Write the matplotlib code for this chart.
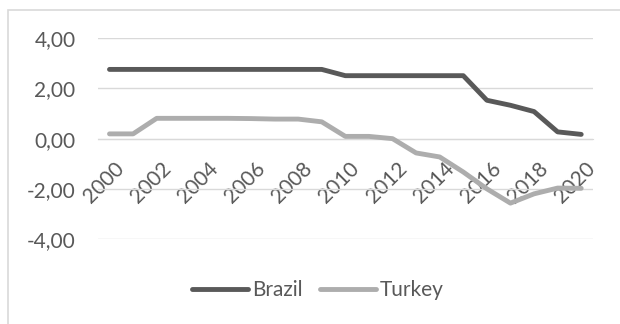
import matplotlib
matplotlib.use("Agg")
import matplotlib.pyplot as plt
from matplotlib.patches import Rectangle
from matplotlib.transforms import ScaledTranslation

plt.rcParams['font.family'] = ['Lato', 'DejaVu Sans']

years = list(range(2000, 2021))
brazil = [2.76, 2.76, 2.76, 2.76, 2.76, 2.76, 2.76, 2.76, 2.76, 2.76,
          2.51, 2.51, 2.51, 2.51, 2.51, 2.51, 1.53, 1.33, 1.08, 0.27, 0.17]
turkey = [0.19, 0.19, 0.81, 0.81, 0.81, 0.81, 0.80, 0.78, 0.78, 0.67,
          0.09, 0.09, 0.00, -0.57, -0.73, -1.33, -2.00, -2.57, -2.20, -1.97, -1.98]
year_labels = [str(y) if y % 2 == 0 else '' for y in years]

text_col = '#595959'
grid_col = '#d9d9d9'
fs = 15

fig = plt.figure(figsize=(6.2, 3.24), dpi=100)

# chart frame
fig.patches.append(Rectangle((8 / 620, -0.1), 1.2, 1 - 10 / 324 + 0.1,
                             transform=fig.transFigure, fill=False,
                             edgecolor=grid_col, linewidth=1.2))

ax = fig.add_axes([97.7 / 620, 1 - 239 / 324, (593 - 97.7) / 620, (239 - 38.3) / 324])
x = list(range(len(years)))
ax.plot(x, brazil, color='#595959', linewidth=3.5, solid_capstyle='round', label='Brazil', zorder=3)
ax.plot(x, turkey, color='#adadad', linewidth=3.5, solid_capstyle='round', label='Turkey', zorder=3)

for s in ['top', 'right', 'left']:
    ax.spines[s].set_visible(False)
ax.spines['bottom'].set_position(('data', 0))
ax.spines['bottom'].set_color(grid_col)
ax.set_axisbelow(True)

ax.set_xlim(-0.5, len(years) - 0.5)
ax.set_ylim(-4, 4)
ax.set_yticks([-4, -2, 0, 2, 4])
ax.set_yticklabels([f'{v:.2f}'.replace('.', ',') for v in [-4, -2, 0, 2, 4]])
ax.yaxis.grid(True, color=grid_col, linewidth=1)
ax.tick_params(axis='y', length=0, pad=16, labelsize=fs, labelcolor=text_col)

# year labels sit just under the zero line, slanted
ax.set_xticks(x)
ax.set_xticklabels(year_labels)
ax.tick_params(axis='x', length=0, pad=14, labelsize=fs, labelcolor=text_col, labelrotation=45)
shift = ScaledTranslation(4 / 100, 0, fig.dpi_scale_trans)
for lbl in ax.get_xticklabels():
    lbl.set_ha('right')
    lbl.set_va('top')
    lbl.set_rotation_mode('anchor')
    lbl.set_transform(lbl.get_transform() + shift)

fig.legend(loc='center', bbox_to_anchor=(318 / 620, 1 - 290 / 324), ncol=2, frameon=False,
           fontsize=fs, labelcolor=text_col, handlelength=2.7, handletextpad=0.2,
           columnspacing=0.8)

fig.savefig('out.png', dpi=100)
